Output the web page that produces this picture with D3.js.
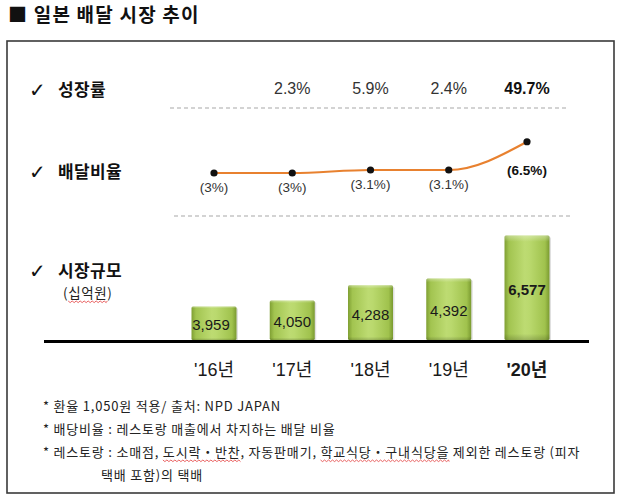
<!DOCTYPE html>
<html><head><meta charset="utf-8">
<script src="https://cdn.jsdelivr.net/npm/d3@7"></script>
<style>
html,body{margin:0;padding:0;background:#fff;}
svg{display:block;}
</style></head>
<body>
<svg id="c" width="620" height="499"></svg>
<script>
const years = ["'16년", "'17년", "'18년", "'19년", "'20년"];
const marketSize = [3959, 4050, 4288, 4392, 6577];
const marketLabels = ["3,959", "4,050", "4,288", "4,392", "6,577"];
const deliveryRatio = [3, 3, 3.1, 3.1, 6.5];
const ratioLabels = ["(3%)", "(3%)", "(3.1%)", "(3.1%)", "(6.5%)"];
const growthRates = [null, "2.3%", "5.9%", "2.4%", "49.7%"];
const rowLabels = ["성장률", "배달비율", "시장규모"];
const title = "■ 일본 배달 시장 추이";
const notes = [
  "* 환율 1,050원 적용/ 출처: NPD JAPAN",
  "* 배당비율 : 레스토랑 매출에서 차지하는 배달 비율",
  "* 레스토랑 : 소매점, 도시락・반찬, 자동판매기, 학교식당・구내식당을 제외한 레스토랑 (피자",
  "택배 포함)의 택배"
];

const KR = "'Noto Sans CJK KR', sans-serif";
const NUM = "'Liberation Sans', 'Noto Sans CJK KR', sans-serif";
const svg = d3.select("#c");

// gradient
const defs = svg.append("defs");
const g1 = defs.append("linearGradient").attr("id","barG").attr("x1","0").attr("x2","1").attr("y1","0").attr("y2","0");
[["0%","#7f9f33"],["10%","#a2c450"],["45%","#bddb72"],["55%","#bad96e"],["90%","#a0c24d"],["100%","#7a9a30"]]
  .forEach(([o,c])=>g1.append("stop").attr("offset",o).attr("stop-color",c));
const g2 = defs.append("linearGradient").attr("id","barT").attr("x1","0").attr("x2","0").attr("y1","0").attr("y2","1");
[["0%","#ffffff",0.35],["6%","#ffffff",0.0],["94%","#000000",0.0],["100%","#000000",0.18]]
  .forEach(([o,c,a])=>g2.append("stop").attr("offset",o).attr("stop-color",c).attr("stop-opacity",a));

// title
svg.append("text").attr("x",8).attr("y",22).text(title)
  .attr("font-family",KR).attr("font-size",19).attr("letter-spacing",1.2)
  .attr("font-weight","bold").attr("fill","#111");

// frame
svg.append("rect").attr("x",7).attr("y",41).attr("width",607).attr("height",452)
  .attr("fill","none").attr("stroke","#3a3a3a").attr("stroke-width",1.6);

// scales
const x = d3.scalePoint().domain(years).range([214, 527]);
const y = d3.scaleLinear().domain([3440, 4400, 6600]).range([340, 278, 235]);
const yr = d3.scaleLinear().domain([3, 3.2, 6.6]).range([173, 167, 141]);
const barW = 45;

// row labels
const rowY = [90, 172, 271];
rowLabels.forEach((t,i)=>{
  svg.append("text").attr("x",29).attr("y",rowY[i]+7).text("✓")
    .attr("font-family","'DejaVu Sans'").attr("font-size",20).attr("fill","#111");
  svg.append("text").attr("x",58).attr("y",rowY[i]+6).text(t)
    .attr("font-family",KR).attr("font-size",17).attr("letter-spacing",0.4)
    .attr("font-weight","bold").attr("fill","#111");
});
const unitT = svg.append("text").attr("x",63).attr("y",298).text("(십억원)")
  .attr("font-family",KR).attr("font-size",13.5).attr("letter-spacing",0.6).attr("fill","#222");

// growth rates
svg.append("g").selectAll("text").data(years.map((d,i)=>({d, g:growthRates[i]})).filter(o=>o.g))
  .join("text").attr("x",o=>x(o.d)).attr("y",94).attr("text-anchor","middle")
  .text(o=>o.g).attr("font-family",NUM).attr("font-size",16)
  .attr("font-weight",(o,i)=>o.d===years[years.length-1]?"bold":"normal")
  .attr("fill",(o)=>o.d===years[years.length-1]?"#111":"#333");

// dashed lines
svg.append("line").attr("x1",170).attr("x2",566).attr("y1",108).attr("y2",108)
  .attr("stroke","#a8a8a8").attr("stroke-width",1.2).attr("stroke-dasharray","4,3");
svg.append("line").attr("x1",174).attr("x2",570).attr("y1",216).attr("y2",216)
  .attr("stroke","#a8a8a8").attr("stroke-width",1.2).attr("stroke-dasharray","4,3");

// ratio line
const line = d3.line().x((d,i)=>x(years[i])).y(d=>yr(d)).curve(d3.curveMonotoneX);
svg.append("path").attr("d",line(deliveryRatio)).attr("fill","none")
  .attr("stroke","#e8812f").attr("stroke-width",2.2);
svg.append("g").selectAll("circle").data(deliveryRatio).join("circle")
  .attr("cx",(d,i)=>x(years[i])).attr("cy",d=>yr(d)).attr("r",3.6).attr("fill","#111");
svg.append("g").selectAll("text").data(deliveryRatio).join("text")
  .attr("x",(d,i)=>x(years[i])).attr("y",(d,i)=>i===4? yr(d)+33 : yr(d)+19)
  .attr("text-anchor","middle").text((d,i)=>ratioLabels[i])
  .attr("font-family",NUM).attr("font-size",13.5)
  .attr("font-weight",(d,i)=>i===4?"bold":"normal").attr("fill",(d,i)=>i===4?"#111":"#333");

// bars
const base = y.range()[0];
const bars = svg.append("g");
marketSize.forEach((v,i)=>{
  const cx = x(years[i]);
  bars.append("rect").attr("x",cx-barW/2+1.5).attr("y",y(v)+1.5).attr("width",barW).attr("height",base-y(v))
    .attr("fill","#000").attr("opacity",0.12).attr("rx",1.5);
  bars.append("rect").attr("x",cx-barW/2).attr("y",y(v)).attr("width",barW).attr("height",base-y(v))
    .attr("fill","url(#barG)").attr("rx",1.5);
  bars.append("rect").attr("x",cx-barW/2).attr("y",y(v)).attr("width",barW).attr("height",base-y(v))
    .attr("fill","url(#barT)").attr("rx",1.5);
  bars.append("text").attr("x",cx - (i===0?3:0)).attr("y",(y(v)+base)/2+7)
    .attr("text-anchor","middle").text(marketLabels[i])
    .attr("font-family",NUM).attr("font-size",15)
    .attr("font-weight",i===4?"bold":"normal").attr("fill","#1a1a1a");
});

// baseline axis
svg.append("line").attr("x1",44).attr("x2",589).attr("y1",base+1.5).attr("y2",base+1.5)
  .attr("stroke","#000").attr("stroke-width",3);

// year labels
svg.append("g").selectAll("text").data(years).join("text")
  .attr("x",d=>x(d)).attr("y",376).attr("text-anchor","middle").text(d=>d)
  .attr("font-family",NUM).attr("font-size",18)
  .attr("font-weight",(d,i)=>i===4?"bold":"normal").attr("fill","#1a1a1a");

// notes
const noteY = [411, 434, 457, 480];
const noteX = [43, 43, 43, 101];
const noteEls = notes.map((t,i)=>svg.append("text").attr("x",noteX[i]).attr("y",noteY[i]).text(t)
  .attr("font-family",KR).attr("font-size",13).attr("letter-spacing",0.8).attr("fill","#222"));

// red wavy spell-check underlines
function wavy(x0, x1, yy){
  let d = `M${x0},${yy}`;
  for(let xx=x0, k=0; xx<x1; xx+=2, k++){ d += ` L${Math.min(xx+2,x1)},${yy + (k%2?0:1.6)}`; }
  svg.append("path").attr("d",d).attr("fill","none").attr("stroke","#e23b3b").attr("stroke-width",0.8);
}
function underlineSub(el, sub){
  const node = el.node(); const txt = node.textContent; const idx = txt.indexOf(sub);
  if(idx<0) return;
  const x0 = +el.attr("x") + node.getSubStringLength(0, idx);
  const w = node.getSubStringLength(idx, sub.length);
  wavy(x0, x0+w, +el.attr("y")+3);
}
underlineSub(noteEls[2], "도시락・반찬");
underlineSub(noteEls[2], "학교식당・구내식당을");
underlineSub(unitT, "십억원");
</script>
</body></html>
